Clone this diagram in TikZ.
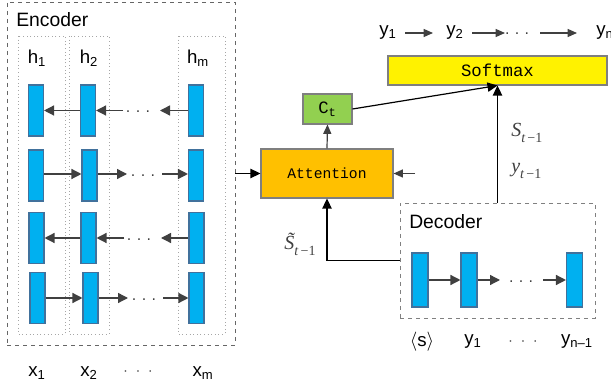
\documentclass[tikz,border=0pt]{standalone}
\usepackage{fontspec}
\setmainfont{Liberation Sans}
\setmonofont{Liberation Mono}
\newfontfamily\serifit{Liberation Serif}
\usetikzlibrary{arrows.meta}
\definecolor{cellblue}{HTML}{00B0F0}
\definecolor{cellborder}{HTML}{41719C}
\definecolor{attn}{HTML}{FFC000}
\definecolor{ctg}{HTML}{92D050}
\definecolor{arrgray}{HTML}{404040}
\definecolor{boxgray}{HTML}{7F7F7F}
\newcommand{\subtm}{\raisebox{-4pt}{\fontsize{10.5}{12}\selectfont\itshape t\upshape\,−1}}
\begin{document}
\begin{tikzpicture}[x=0.75pt,y=-0.75pt,
  cell/.style={draw=cellborder, fill=cellblue, line width=0.8pt, minimum width=11.25pt, minimum height=38.25pt, inner sep=0pt},
  dcell/.style={cell, minimum width=12pt, minimum height=40.5pt},
  garrow/.style={draw=arrgray, line width=1pt, -{Triangle[length=7.5pt,width=7.5pt]}},
  barrow/.style={draw=black, line width=0.9pt, -{Triangle[length=7.5pt,width=7pt]}},
  sarrow/.style={draw=arrgray, line width=0.9pt, -{Triangle[length=7pt,width=6pt]}},
  lbl/.style={font=\fontsize{14}{16}\selectfont, inner sep=0pt},
  mathlbl/.style={font=\serifit\fontsize{15}{17}\selectfont, inner sep=0pt, text=black!75},
  colbox/.style={draw=gray!70, dotted, line width=0.7pt},
  monobox/.style={draw=boxgray, line width=0.8pt, inner sep=0pt, font=\ttfamily\fontsize{11}{13}\selectfont},
  dotlbl/.style={font=\fontsize{12}{14}\selectfont, text=arrgray, inner sep=0pt}
]
\useasboundingbox (0,0) rectangle (611,391);

% Encoder outer box
\node[draw=gray!80!black, dashed, line width=0.7pt, minimum width=171pt, minimum height=257.25pt, inner sep=0pt] (enc) at (121,173.5) {};
\node[lbl, anchor=west, font=\fontsize{14.5}{16}\selectfont] (enclbl) at (16,20) {Encoder};

% column dotted boxes
\draw[colbox] (18,36) rectangle (65,334);
\draw[colbox] (69,36) rectangle (109,334);
\draw[colbox] (178,36) rectangle (225,334);

\node[lbl] (h1) at (37,58) {h\textsubscript{1}};
\node[lbl] (h2) at (89,58) {h\textsubscript{2}};
\node[lbl] (hm) at (198,58) {h\textsubscript{m}};

% cells
\node[cell] (e11) at (36,110.5) {};
\node[cell] (e12) at (88,110.5) {};
\node[cell] (e13) at (196,110.5) {};
\node[cell] (e21) at (36,175.5) {};
\node[cell] (e22) at (89.5,175.5) {};
\node[cell] (e23) at (196,175.5) {};
\node[cell] (e31) at (36.5,238) {};
\node[cell] (e32) at (88.5,238) {};
\node[cell] (e33) at (196.5,238) {};
\node[cell] (e41) at (37.5,298) {};
\node[cell] (e42) at (90.5,298) {};
\node[cell] (e43) at (196.5,298) {};

% row 1 (leftward)
\coordinate (r1a) at (160,110.5);
\coordinate (r1b) at (123,110.5);
\draw[garrow] (e12) -- (e11);
\draw[garrow] (r1b) -- (e12.east);
\draw[garrow] (e13.west) -- (r1a);
\node[dotlbl] (d1) at (138,112) {.\,\,.\,\,.};
% row 2 (rightward)
\coordinate (r2a) at (127,174);
\coordinate (r2b) at (162,174);
\draw[garrow] (e21.east |- r2a) -- (e22.west |- r2a);
\draw[garrow] (e22.east |- r2a) -- (r2a);
\draw[garrow] (r2b) -- (e23.west |- r2b);
\node[dotlbl] (d2) at (143,176) {.\,\,.\,\,.};
% row 3 (leftward)
\coordinate (r3a) at (161,238);
\coordinate (r3b) at (124,238);
\draw[garrow] (e32) -- (e31);
\draw[garrow] (r3b) -- (e32.east);
\draw[garrow] (e33.west) -- (r3a);
\node[dotlbl] (d3) at (139,240) {.\,\,.\,\,.};
% row 4 (rightward)
\coordinate (r4a) at (128,298);
\coordinate (r4b) at (163,298);
\draw[garrow] (e41) -- (e42);
\draw[garrow] (e42.east) -- (r4a);
\draw[garrow] (r4b) -- (e43.west);
\node[dotlbl] (d4) at (144,300) {.\,\,.\,\,.};

% x labels
\node[lbl] (x1) at (37,373) {x\textsubscript{1}};
\node[lbl] (x2) at (89,373) {x\textsubscript{2}};
\node[dotlbl] (xd) at (138,372) {$\cdot\ \cdot\ \cdot$};
\node[lbl] (xm) at (203,373) {x\textsubscript{m}};

% Attention, Ct, Softmax
\node[monobox, fill=attn, minimum width=99pt, minimum height=36.75pt] (attn) at (327,173.5) {Attention};
\node[monobox, fill=ctg, minimum width=36.75pt, minimum height=22.5pt, font=\ttfamily\fontsize{13}{15}\selectfont] (ct) at (327.5,109) {C\textsubscript{t}};
\node[monobox, fill=yellow, minimum width=164.25pt, minimum height=21.75pt, font=\ttfamily\fontsize{13}{15}\selectfont] (soft) at (497.5,70.5) {Softmax};

\draw[barrow] (enc.east |- attn) -- (attn.west);
\coordinate (ain) at (415,173.5);
\draw[sarrow] (ain) -- (attn.east);
\draw[sarrow] (attn.north) -- (ct.south);
\draw[barrow] (ct.east) -- (soft.south);

% Decoder
\node[draw=gray, dashed, line width=0.7pt, minimum width=146.25pt, minimum height=86.25pt, inner sep=0pt] (dec) at (497.5,260.5) {};
\node[lbl, anchor=west, font=\fontsize{14.5}{16}\selectfont] (declbl) at (409,222) {Decoder};
\node[dcell] (c1) at (420,280) {};
\node[dcell] (c2) at (469,280) {};
\node[dcell] (c3) at (574.5,280) {};
\coordinate (dca) at (500,280);
\coordinate (dcb) at (543,280);
\draw[garrow] (c1) -- (c2);
\draw[garrow] (c2.east) -- (dca);
\draw[garrow] (dcb) -- (c3.west);
\node[dotlbl] (dd) at (521,282) {.\,\,.\,\,.};

\draw[barrow] (dec.north) -- (soft.south);
\draw[barrow] (dec.west) -| (attn.south);

\node[mathlbl, anchor=west] (st) at (511,133) {\itshape S\subtm};
\node[mathlbl, anchor=west] (yt) at (511,171) {\itshape y\subtm};
\node[mathlbl] (stt) at (300,244) {\itshape\~{S}\subtm};

% top outputs
\node[lbl] (o1) at (388,33) {y\textsubscript{1}};
\node[lbl] (o2) at (455,33) {y\textsubscript{2}};
\node[dotlbl] (od) at (517,34) {.\,\,.\,\,.};
\node[lbl, anchor=west] (on) at (596,33) {y\textsubscript{n}};
\coordinate (oa) at (405,33);
\coordinate (ob) at (433,33);
\coordinate (oc) at (472,33);
\coordinate (oe) at (505,33);
\coordinate (of) at (540,33);
\coordinate (og) at (577,33);
\draw[sarrow] (oa) -- (ob);
\draw[sarrow] (oc) -- (oe);
\draw[sarrow] (of) -- (og);

% bottom decoder inputs
\node[lbl] (s0) at (422,342) {$\langle$s$\rangle$};
\node[lbl] (i1) at (473,342) {y\textsubscript{1}};
\node[dotlbl] (id) at (523,342) {$\cdot\ \cdot\ \cdot$};
\node[lbl] (in1) at (577,342) {y\textsubscript{n–1}};
\end{tikzpicture}
\end{document}
